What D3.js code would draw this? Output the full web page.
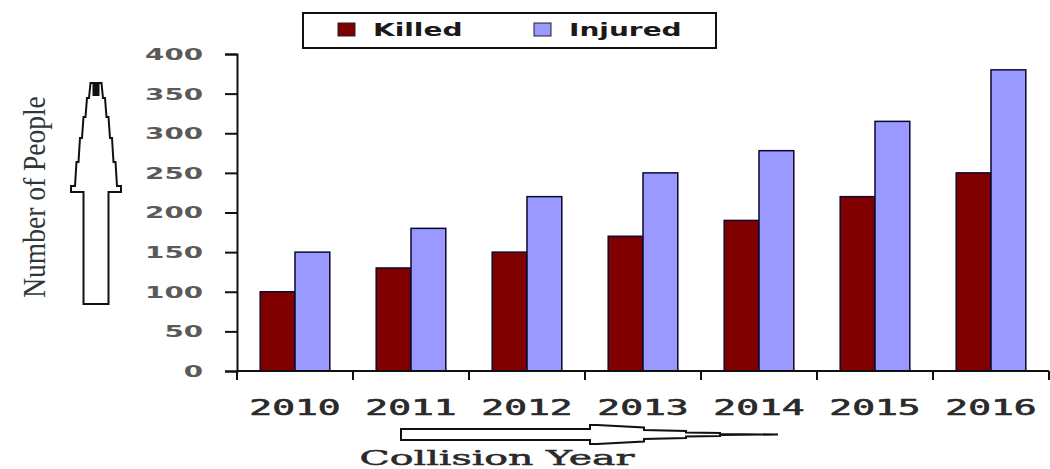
<!DOCTYPE html>
<html>
<head>
<meta charset="utf-8">
<script src="https://cdn.jsdelivr.net/npm/d3@7"></script>
<style>
  html, body { margin: 0; padding: 0; background: #fff; }
  svg { display: block; }
</style>
</head>
<body>
<svg id="chart" width="1050" height="469"></svg>
<script>
// Road collision casualties per year
const years = ["2010", "2011", "2012", "2013", "2014", "2015", "2016"];
const killed = [100, 130, 150, 170, 190, 220, 250];
const injured = [150, 180, 220, 250, 278, 315, 380];
const seriesNames = ["Killed", "Injured"];
const seriesColors = ["#800000", "#9999ff"];
const yTicks = [0, 50, 100, 150, 200, 250, 300, 350, 400];

const svg = d3.select("#chart");

const plot = { left: 237, right: 1049, top: 54, bottom: 371 };

const x = d3.scaleBand()
  .domain(years)
  .range([plot.left, plot.right])
  .paddingInner(0.4)
  .paddingOuter(0.2);

const xSeries = d3.scaleBand()
  .domain(seriesNames)
  .range([0, x.bandwidth()]);

const y = d3.scaleLinear()
  .domain([0, 400])
  .range([plot.bottom, plot.top]);

// Stretch a text element along its own baseline by factor sx,
// keeping its anchor point (x, y) fixed.
function stretchText(node, sx, extra) {
  const t = d3.select(node);
  const ax = +t.attr("x") || 0;
  const ay = +t.attr("y") || 0;
  t.attr("x", 0).attr("y", 0)
    .attr("transform", `translate(${ax},${ay})${extra || ""} scale(${sx},1)`);
}
function stretchBy(sel, sx) {
  sel.each(function () { stretchText(this, sx); });
}

// bars
const rows = years.map((yr, i) => ({ year: yr, values: [killed[i], injured[i]] }));
const groups = svg.append("g").selectAll("g")
  .data(rows)
  .join("g")
  .attr("transform", d => `translate(${x(d.year)},0)`);

groups.selectAll("rect")
  .data(d => d.values.map((v, k) => ({ name: seriesNames[k], value: v, k })))
  .join("rect")
  .attr("x", d => xSeries(d.name))
  .attr("y", d => y(d.value))
  .attr("width", xSeries.bandwidth())
  .attr("height", d => y(0) - y(d.value))
  .attr("fill", d => seriesColors[d.k])
  .attr("stroke", "#0a0a30")
  .attr("stroke-width", 1.5);

// y axis
const yAxis = svg.append("g")
  .attr("transform", `translate(${plot.left},0)`)
  .call(d3.axisLeft(y).tickValues(yTicks).tickSize(12).tickPadding(22).tickSizeOuter(12));
yAxis.select(".domain").attr("stroke", "#111").attr("stroke-width", 2);
yAxis.selectAll(".tick line").attr("stroke", "#111").attr("stroke-width", 2);
yAxis.selectAll(".tick text")
  .attr("font-family", "'DejaVu Sans', Verdana, sans-serif")
  .attr("font-weight", "bold")
  .attr("font-size", 15)
  .attr("fill", "#5a5a5a")
  .attr("dy", "0.36em")
  .call(stretchBy, 1.85);

// x axis with ticks on category boundaries
const xAxisG = svg.append("g").attr("transform", `translate(0,${plot.bottom})`);
xAxisG.append("line")
  .attr("x1", plot.left).attr("x2", plot.right)
  .attr("y1", 0).attr("y2", 0)
  .attr("stroke", "#111").attr("stroke-width", 2);
const boundaries = years.map(yr => x(yr) - x.step() * x.paddingOuter()).concat([plot.right]);
xAxisG.selectAll("line.tick")
  .data(boundaries)
  .join("line")
  .attr("class", "tick")
  .attr("x1", d => d).attr("x2", d => d)
  .attr("y1", 0).attr("y2", 9)
  .attr("stroke", "#111").attr("stroke-width", 2);
xAxisG.selectAll("text")
  .data(years)
  .join("text")
  .attr("x", d => x(d) + x.bandwidth() / 2)
  .attr("y", 44)
  .attr("text-anchor", "middle")
  .attr("font-family", "'DejaVu Sans Mono', monospace")
  .attr("font-size", 20.5)
  .attr("fill", "#2a2a2a")
  .attr("stroke", "#2a2a2a")
  .attr("stroke-width", 0.6)
  .text(d => d)
  .call(stretchBy, 1.85);

// legend
const legend = svg.append("g");
legend.append("rect")
  .attr("x", 303).attr("y", 13).attr("width", 413).attr("height", 35)
  .attr("fill", "#fff").attr("stroke", "#111").attr("stroke-width", 2);
const legendItems = legend.selectAll("g.item")
  .data(seriesNames)
  .join("g")
  .attr("class", "item")
  .attr("transform", (d, i) => `translate(${[338, 534][i]},23)`);
legendItems.append("rect")
  .attr("width", 17).attr("height", 13)
  .attr("fill", (d, i) => seriesColors[i])
  .attr("stroke", "#222").attr("stroke-width", 1);
legendItems.append("text")
  .attr("x", 35).attr("y", 13)
  .attr("font-family", "'DejaVu Sans', Verdana, sans-serif")
  .attr("font-weight", "bold")
  .attr("font-size", 17.5)
  .attr("fill", "#1a1a1a")
  .text(d => d)
  .call(stretchBy, 1.6);

// y axis title with upward arrow
const yTitle = svg.append("text")
  .attr("x", 45).attr("y", 197)
  .attr("text-anchor", "middle")
  .attr("font-family", "'Liberation Serif', 'Times New Roman', serif")
  .attr("font-size", 32)
  .attr("fill", "#2e3838")
  .text("Number of People");
stretchText(yTitle.node(), 0.86, " rotate(-90)");

const upX = 96;
const levels = [186, 162, 138, 117, 98, 83];
const halfW = [21, 17.5, 14, 10.5, 7, 3.5];
const upRight = [[upX + 12.5, 304], [upX + 12.5, 192], [upX + 25, 192], [upX + 25, 186]];
for (let i = 0; i < levels.length - 1; i++) {
  upRight.push([upX + halfW[i], levels[i]]);
  upRight.push([upX + halfW[i] - 1.5, levels[i + 1]]);
}
upRight.push([upX + halfW[halfW.length - 1], levels[levels.length - 1]]);
const upLeft = upRight.map(([px, py]) => [2 * upX - px, py]).reverse();
svg.append("path")
  .attr("d", d3.line()(upRight.concat(upLeft)) + "Z")
  .attr("fill", "#fff").attr("stroke", "#111").attr("stroke-width", 2)
  .attr("stroke-linejoin", "miter");
svg.append("rect")
  .attr("x", upX - 3.5).attr("y", 83).attr("width", 7).attr("height", 13)
  .attr("fill", "#111");

// x axis title with rightward arrow
const arrowY = 434.5;
const arrowUpper = [[401, 429], [590, 429], [590, 425], [597, 425], [644, 427.5], [644, 430],
  [686, 431], [686, 432.5], [720, 433], [720, 434], [778, 434.5]];
const arrowLower = arrowUpper.slice(0, -1).map(([px, py]) => [px, 2 * arrowY - py]).reverse();
svg.append("path")
  .attr("d", d3.line()(arrowUpper.concat(arrowLower)) + "Z")
  .attr("fill", "#fff").attr("stroke", "#111").attr("stroke-width", 2);

const xTitle = svg.append("text")
  .attr("x", 497).attr("y", 465)
  .attr("text-anchor", "middle")
  .attr("font-family", "'DejaVu Serif', serif")
  .attr("font-size", 21)
  .attr("fill", "#2a2a2a")
  .attr("stroke", "#2a2a2a")
  .attr("stroke-width", 0.5)
  .text("Collision Year");
stretchText(xTitle.node(), 275 / xTitle.node().getComputedTextLength());
</script>
</body>
</html>
